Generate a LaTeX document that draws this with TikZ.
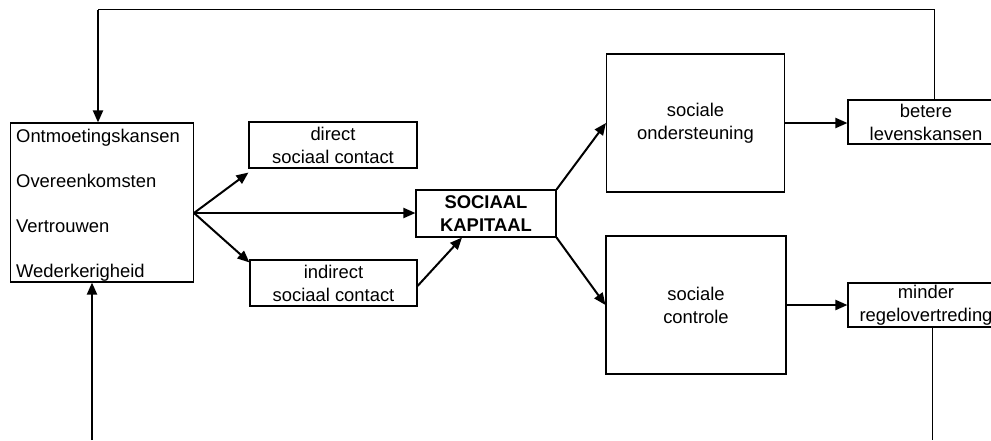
\documentclass[tikz,border=0pt]{standalone}
\usepackage{fontspec}
\setmainfont{Liberation Sans}
\usetikzlibrary{arrows.meta}
\begin{document}
\begin{tikzpicture}[x=1pt,y=-1pt,
  box/.style={draw=black,line width=1.1pt,rectangle,inner sep=0pt,align=center,
    font=\fontsize{18.4}{23}\selectfont},
  lbl/.style={inner sep=0pt,anchor=base west,font=\fontsize{18.4}{23}\selectfont},
  arr/.style={line width=2pt,-{Triangle[length=12pt,width=10pt]}},
  thinline/.style={line width=1pt}]
\useasboundingbox (0,0) rectangle (991,440);
% boxes
\node[box,minimum width=183.5pt,minimum height=159pt] (L) at (102,202.5) {};
\node[lbl] (t1) at (16,142) {Ontmoetingskansen};
\node[lbl] (t2) at (16,187) {Overeenkomsten};
\node[lbl] (t3) at (16,232) {Vertrouwen};
\node[lbl] (t4) at (16,277) {Wederkerigheid};
\node[box,minimum width=168pt,minimum height=46pt] (D) at (333,145) {direct\\ sociaal contact};
\node[box,minimum width=167pt,minimum height=46pt] (I) at (333.5,283) {indirect\\ sociaal contact};
\node[box,minimum width=140pt,minimum height=47pt,font=\fontsize{18.4}{23}\selectfont\bfseries] (SK) at (486,213.5) {SOCIAAL\\KAPITAAL};
\node[box,minimum width=178pt,minimum height=138pt] (SO) at (695.5,123) {sociale\\ondersteuning};
\node[box,minimum width=180pt,minimum height=138pt] (SC) at (696,305) {sociale\\controle};
\node[box,minimum width=156pt,minimum height=44pt] (BL) at (926,122) {betere\\levenskansen};
\node[box,minimum width=156pt,minimum height=44pt] (MR) at (926,305) {minder\\regelovertreding};
% connectors
\coordinate (src) at (194,213);
\draw[arr] (src) -- ([yshift=-4pt]D.south west);
\draw[arr] (src) -- (SK.west |- src);
\draw[arr] (src) -- ([yshift=-3pt]I.north west);
\draw[arr] ([yshift=-3pt]I.east) -- ([xshift=-24pt]SK.south);
\draw[arr] (SK.north east) -- (SO.west);
\draw[arr] (SK.south east) -- (SC.west);
\draw[arr] (SO.east) -- (BL.west |- SO.east);
\draw[arr] (SC.east) -- (MR.west |- SC.east);
% feedback
\coordinate (fbtop) at (98,9);
\coordinate (fbbot) at (932,440);
\coordinate (fbleft) at (92,440);
\draw[thinline] ([xshift=8pt]BL.north) |- (fbtop);
\draw[arr] ([yshift=-0.5pt]fbtop) -- ([xshift=-4pt]L.north);
\draw[thinline] ([xshift=6pt]MR.south) -- (fbbot);
\draw[arr] (fbleft) -- ([xshift=-10pt]L.south);
\end{tikzpicture}
\end{document}
